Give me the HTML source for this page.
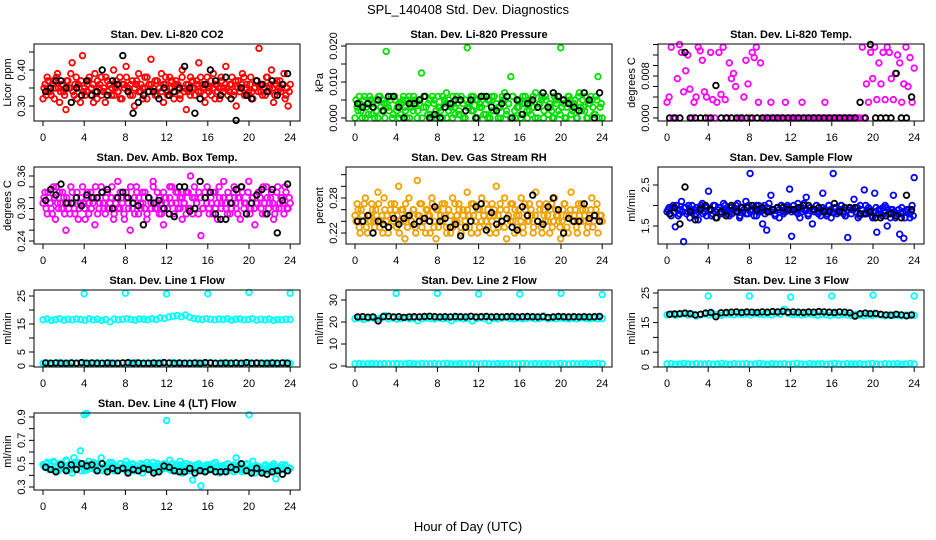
<!DOCTYPE html>
<html><head><meta charset="utf-8">
<style>
html,body{margin:0;padding:0;background:#fff;}
svg{display:block;font-family:"Liberation Sans",Arial,sans-serif;}
</style></head>
<body>
<svg id="chart" width="936" height="540" viewBox="0 0 936 540" xmlns="http://www.w3.org/2000/svg">
<rect x="0" y="0" width="936" height="540" fill="#fff"/>
<text x="468" y="14" text-anchor="middle" font-size="13">SPL_140408  Std. Dev. Diagnostics</text>
<text x="468" y="531" text-anchor="middle" font-size="13">Hour of Day (UTC)</text>
</svg>
<script>
// ---- data ----
const hourTicks = [0,4,8,12,16,20,24];
const outlierHours = [4,8,12,16,20,24];

const co2Red = [.32,.36,.38,.34,.33,.37,.35,.39,.31,.36,.34,.29,.37,.35,.42,.33,.38,.36,.31,.44,.35,.34,.37,.33,.36,.39,.32,.35,.38,.34,
.31,.37,.36,.33,.40,.35,.34,.38,.32,.36,.41,.35,.33,.37,.30,.36,.39,.34,.35,.38,.32,.36,.43,.34,.37,.33,.35,.39,.31,.36,
.34,.38,.35,.32,.37,.36,.33,.40,.34,.29,.36,.38,.35,.33,.37,.42,.34,.36,.31,.38,.35,.33,.39,.36,.34,.32,.37,.35,.41,.33,
.36,.38,.34,.30,.37,.35,.39,.33,.36,.34,.38,.32,.35,.37,.46,.34,.36,.33,.38,.35,.40,.31,.36,.34,.37,.35,.39,.33,.30,.36];
const co2RedB = [.35,.33,.37,.34,.36,.32,.38,.35,.34,.36,.33,.37,.35,.39,.34,.36,.32,.35,.37,.34,.33,.36,.38,.35,.31,.34,.37,.36,.33,.35,
.38,.34,.36,.35,.33,.37,.34,.32,.36,.35,.38,.34,.36,.33,.35,.37,.34,.36,.32,.35,.38,.34,.36,.35,.33,.37,.35,.34,.36,.38,
.33,.35,.37,.34,.36,.35,.32,.38,.35,.36,.34,.33,.37,.35,.36,.34,.38,.35,.33,.36,.34,.37,.35,.32,.36,.35,.38,.34,.36,.35,
.34,.36,.33,.37,.35,.34,.36,.38,.35,.33,.36,.34,.35,.37,.34,.36,.33,.35,.38,.34,.36,.35,.33,.37,.35,.34,.36,.32,.35,.34];
const co2Black = [.34,.35,.37,.37,.35,.31,.35,.33,.37,.33,.34,.40,.33,.37,.36,.44,.34,.28,.31,.33,.34,.34,.32,.35,.33,.34,.35,.41,.35,.28,.32,.36,.40,.37,.33,.38,.32,.26,.35,.33,.32,.37,.36,.34,.37,.33,.36,.39];

const presGreen = [0,.003,.006,.002,.005,0,.004,.006,.001,.003,.005,0,.006,.002,.004,.0185,.003,.005,0,.006,.002,.004,.001,.005,.003,0,.006,.004,.002,.005,
0,.004,.0125,.003,.006,.001,.005,0,.004,.002,.006,.003,0,.005,.007,.002,.004,0,.003,.006,.001,.005,.004,0,.0195,.003,.006,.002,.005,0,
.004,.003,.006,.001,.005,0,.002,.006,.004,.003,0,.005,.007,.002,.004,.0115,.006,0,.003,.005,.001,.004,.006,0,.002,.005,.003,.007,0,.004,
.006,.002,.005,.001,.003,0,.006,.004,.002,.0195,.005,0,.003,.006,.001,.004,.005,0,.007,.002,.003,.006,0,.004,.005,.001,.006,.0115,.003,0];
const presGreenB = [.005,.002,.004,0,.006,.003,.001,.005,.004,0,.002,.006,.003,.005,0,.004,.002,.006,.001,.005,.003,0,.004,.006,.002,.005,0,.003,.006,.004,
.002,.005,0,.006,.003,.004,.001,.006,.005,0,.003,.002,.006,.004,0,.005,.003,.006,.001,.004,.002,.006,0,.005,.003,.004,.002,.006,0,.005,
.003,.006,.001,.004,0,.005,.006,.002,.004,0,.003,.006,.005,.001,.004,0,.006,.002,.005,.003,0,.006,.004,.002,.005,.001,.006,0,.003,.004,
.005,0,.006,.003,.004,.002,0,.005,.006,.001,.003,.004,0,.006,.005,.002,.004,0,.006,.003,.005,.002,0,.004,.006,.003,.001,.005,0,.004];
const presBlack = [.004,.003,.004,.003,.005,.002,.006,.006,.003,0,.004,.004,.005,.006,0,.001,0,.003,.004,.005,.005,.002,.005,0,.006,.006,.003,.002,.004,.006,0,.005,.001,.004,.005,.003,.007,.003,.007,.006,.005,.004,.003,.002,.007,.005,0,.007];

const tempMagenta = [.003,.004,.0135,0,0,.0075,.014,.0125,.005,.009,.012,.0055,0,.003,.004,.0135,.0128,.011,.005,.004,0,.0125,.0035,0,.003,.0125,.0045,.0135,.0035,0,
.0105,.0075,.0085,.006,0,0,0,.004,.011,.0065,0,.0125,.0115,.0135,.003,.0105,0,0,0,0,.003,0,0,0,0,0,0,.003,0,0,
0,0,0,0,0,.003,0,0,0,0,0,0,0,0,0,0,.003,0,0,0,0,0,0,0,0,0,0,0,0,0,
0,0,0,0,.0135,0,.0065,.003,.0125,.0075,.0135,.0035,.0105,.0065,.0125,.0035,.0135,.0125,.0075,.0035,.0085,.012,.0105,.003,.0065,.0135,.006,.0115,.003,.0095];
const tempBlack = [0,0,0,.0125,0,0,0,0,0,.0062,0,0,0,0,0,0,0,0,0,0,0,0,0,0,0,0,0,0,0,0,0,0,0,0,0,0,0,.003,0,.014,0,0,0,0,.0085,0,0,.004];

const ambMagenta = [.31,.33,.29,.32,.30,.34,.28,.31,.33,.30,.32,.26,.31,.29,.33,.30,.32,.28,.31,.34,.30,.32,.29,.33,.31,.27,.32,.30,.34,.31,
.29,.33,.30,.32,.28,.31,.35,.30,.32,.29,.33,.31,.26,.30,.32,.34,.29,.31,.33,.30,.28,.32,.31,.35,.30,.33,.29,.31,.27,.32,
.30,.34,.31,.29,.33,.30,.32,.28,.31,.33,.30,.36,.29,.32,.31,.33,.25,.30,.32,.34,.29,.31,.33,.30,.28,.32,.31,.35,.30,.33,
.29,.31,.34,.30,.32,.28,.33,.31,.29,.35,.30,.32,.27,.31,.33,.30,.34,.29,.32,.31,.33,.28,.30,.34,.31,.32,.29,.33,.30,.31];
const ambMagentaB = [.32,.30,.33,.31,.29,.32,.34,.30,.31,.33,.29,.32,.30,.34,.31,.29,.33,.30,.32,.31,.28,.33,.31,.30,.32,.34,.29,.31,.33,.30,
.32,.30,.31,.34,.29,.32,.30,.33,.31,.28,.32,.30,.34,.31,.29,.33,.32,.30,.31,.33,.29,.32,.30,.34,.31,.30,.32,.29,.33,.31,
.30,.32,.34,.29,.31,.33,.30,.32,.31,.29,.33,.30,.32,.34,.31,.29,.32,.30,.33,.31,.30,.32,.29,.33,.31,.34,.30,.32,.31,.29,
.32,.30,.33,.31,.29,.32,.34,.30,.31,.33,.29,.32,.30,.31,.33,.32,.29,.31,.34,.30,.32,.31,.29,.33,.30,.32,.31,.34,.30,.32];
const ambBlack = [.315,.335,.325,.345,.31,.31,.32,.305,.325,.32,.32,.33,.335,.30,.32,.33,.32,.31,.305,.27,.32,.31,.315,.30,.29,.285,.34,.34,.295,.30,.35,.32,.33,.29,.28,.28,.31,.335,.34,.29,.31,.325,.335,.29,.335,.255,.315,.345];

const rhOrange = [.25,.27,.23,.26,.24,.28,.22,.25,.27,.24,.26,.29,.23,.25,.28,.24,.22,.26,.25,.27,.23,.30,.24,.26,.21,.25,.28,.24,.26,.23,
.31,.25,.27,.24,.22,.26,.25,.28,.23,.21,.26,.24,.27,.25,.23,.26,.22,.28,.24,.25,.27,.23,.26,.24,.29,.25,.22,.27,.24,.26,
.23,.28,.25,.24,.26,.22,.27,.25,.30,.23,.26,.24,.28,.21,.25,.27,.24,.26,.23,.25,.28,.22,.26,.24,.27,.25,.23,.29,.24,.26,
.22,.25,.27,.24,.26,.23,.28,.25,.24,.21,.26,.27,.23,.25,.29,.24,.26,.22,.25,.27,.24,.26,.23,.25,.28,.24,.26,.22,.25,.24];
const rhOrangeB = [.24,.26,.22,.25,.27,.23,.25,.24,.26,.23,.25,.27,.24,.22,.26,.25,.23,.27,.24,.26,.25,.22,.26,.24,.27,.23,.25,.24,.26,.22,
.25,.27,.23,.24,.26,.25,.22,.27,.24,.26,.23,.25,.24,.27,.22,.26,.25,.23,.27,.24,.26,.22,.25,.24,.26,.23,.27,.25,.24,.22,
.26,.24,.25,.27,.23,.25,.24,.26,.22,.25,.27,.24,.23,.26,.25,.24,.27,.22,.25,.26,.24,.23,.27,.25,.24,.26,.22,.25,.24,.27,
.23,.26,.24,.25,.22,.27,.24,.26,.25,.23,.24,.27,.25,.22,.26,.24,.25,.23,.27,.24,.26,.25,.22,.24,.26,.23,.25,.27,.24,.25];
const rhBlack = [.24,.24,.25,.22,.24,.235,.23,.245,.235,.245,.25,.235,.24,.245,.24,.265,.24,.245,.23,.235,.215,.23,.24,.265,.27,.225,.255,.235,.24,.245,.23,.225,.265,.25,.285,.24,.235,.265,.28,.26,.22,.245,.24,.24,.27,.245,.25,.24];

const flowBlue = [1.85,1.95,1.75,2.0,1.48,1.9,1.8,2.1,1.12,1.95,1.85,1.7,2.0,1.9,1.8,1.65,1.95,2.05,1.85,1.75,2.35,1.9,1.8,2.0,1.7,1.95,1.85,1.9,2.0,1.8,
1.75,1.95,1.9,1.85,2.05,1.7,1.95,1.9,2.1,1.8,2.78,1.9,1.75,2.0,1.85,1.9,1.55,2.0,1.4,1.85,2.25,1.9,1.8,1.95,1.7,2.0,1.85,1.9,2.0,2.4,
1.25,1.9,1.85,2.05,1.7,1.95,1.9,2.2,1.8,1.95,1.55,1.9,2.0,1.85,1.75,2.3,1.9,1.8,2.0,1.7,2.78,1.95,1.85,1.9,2.0,1.8,1.75,1.22,1.95,1.9,
2.15,1.85,1.7,2.0,1.9,2.38,1.8,1.95,1.85,1.7,2.3,1.35,1.9,1.8,1.95,2.0,1.5,1.85,1.9,2.25,1.7,1.8,1.3,1.95,1.2,1.85,1.9,1.7,2.0,2.68];
const flowBlueB = [1.9,1.8,1.95,1.85,2.0,1.75,1.9,1.85,1.95,1.8,2.0,1.9,1.85,1.75,1.95,1.9,2.0,1.8,1.85,1.95,1.9,1.75,2.0,1.85,1.9,1.95,1.8,2.05,1.85,1.9,
1.95,1.8,1.9,2.0,1.85,1.75,1.95,1.9,1.8,2.0,1.85,1.9,1.95,1.75,2.0,1.85,1.9,1.8,1.95,2.05,1.85,1.9,1.75,1.95,1.9,2.0,1.8,1.85,1.95,1.9,
1.85,2.0,1.9,1.8,1.95,1.85,2.05,1.9,1.75,1.95,1.9,1.85,2.0,1.8,1.9,1.95,1.85,1.75,2.0,1.9,1.85,1.95,1.8,1.9,2.0,1.85,1.75,1.9,1.95,1.8,
1.9,1.85,1.95,1.75,1.9,1.8,2.0,1.85,1.9,1.75,1.85,1.95,1.8,1.9,1.75,1.85,1.95,1.8,1.7,1.9,1.85,1.75,1.9,1.8,1.85,1.7,1.9,1.8,1.85,1.75];
const flowBlack = [1.8,1.95,1.55,2.45,1.85,1.65,1.9,2.0,1.9,1.7,1.85,1.75,2.0,1.85,1.95,1.95,2.0,1.9,1.95,1.85,1.9,1.95,1.95,1.9,1.9,1.95,2.0,2.0,1.9,1.95,1.85,1.85,2.05,1.85,1.95,1.95,1.95,1.8,1.8,1.85,1.7,1.7,1.75,1.8,1.75,1.7,2.25,1.9];

const line1Hi = [16.5,16.8,16.3,16.6,16.9,16.4,16.7,16.5,16.8,16.6,16.4,16.9,16.5,16.7,16.3,16.6,15.8,16.8,16.5,16.7,16.9,16.6,16.4,16.8,16.7,16.5,16.9,16.6,17.2,17.0,17.5,17.8,18.0,17.6,18.2,17.4,17.0,16.8,16.6,16.9,16.7,16.5,16.8,16.6,16.9,16.4,16.7,16.8,16.5,16.6,16.9,16.4,16.7,16.5,16.8,16.3,16.6,16.5,16.7,16.6];
const line1Lo = [1.0,1.1,0.9,1.0,1.2,1.0,0.9,1.1,1.0,1.0,1.1,0.9,1.0,1.2,1.0,0.9,1.1,1.0,1.0,1.1,0.9,1.0,1.2,1.0,0.9,1.1,1.0,1.0,1.1,0.9,1.0,1.2,1.0,0.9,1.1,1.0,1.0,1.1,0.9,1.0,1.2,1.0,0.9,1.1,1.0,1.0,1.1,0.9,1.0,1.2,1.0,0.9,1.1,1.0,1.0,1.1,0.9,1.0,1.2,1.0];
const line1Black = [1.1,1.0,1.1,1.0,1.0,1.1,1.0,1.2,1.0,1.1,1.0,1.0,1.1,1.0,1.0,1.1,1.2,1.0,1.1,1.0,1.0,1.1,1.0,1.2,1.1,1.0,1.1,1.0,1.0,1.1,1.0,1.2,1.1,1.0,1.0,1.1,1.0,1.1,1.0,1.2,1.0,1.1,1.0,1.0,1.1,1.0,1.1,1.0];
const line1Out = [25.8,26.0,25.7,25.8,26.3,26.0];

const line2Hi = [21.5,21.8,21.2,21.6,22.0,21.4,21.7,23.0,21.5,21.8,21.3,21.6,21.9,21.4,21.7,20.6,21.5,21.8,21.6,21.4,21.9,21.5,21.7,20.6,21.6,21.8,21.4,21.7,20.5,21.6,21.9,21.5,20.6,21.7,21.4,21.8,22.2,21.6,21.5,21.8,21.4,21.7,21.9,21.5,21.6,22.8,21.4,21.7,21.5,21.8,21.6,21.4,21.7,21.5,21.9,21.6,21.4,21.7,21.5,21.6];
const line2Lo = [1.0,1.1,0.9,1.0,1.2,1.0,0.9,1.1,1.0,1.0,1.1,0.9,1.0,1.2,1.0,0.9,1.1,1.0,1.0,1.1,0.9,1.0,1.2,1.0,0.9,1.1,1.0,1.0,1.1,0.9,1.0,1.2,1.0,0.9,1.1,1.0,1.0,1.1,0.9,1.0,1.2,1.0,0.9,1.1,1.0,1.0,1.1,0.9,1.0,1.2,1.0,0.9,1.1,1.0,1.0,1.1,0.9,1.0,1.2,1.0];
const line2Black = [22.3,22.4,22.2,22.3,20.5,22.4,22.6,22.3,22.4,22.1,22.3,22.4,22.3,22.5,22.6,22.4,22.3,22.4,22.3,22.5,22.4,22.3,22.6,22.3,22.4,22.5,22.3,22.4,22.3,22.4,22.5,22.3,22.4,22.5,22.4,22.3,22.4,22.1,22.3,22.5,22.4,22.3,22.4,22.3,22.4,22.3,22.4,22.5];
const line2Out = [33.0,33.0,32.7,32.7,33.0,32.5];

const line3Hi = [17.6,17.9,17.5,17.8,18.0,17.6,17.9,17.2,17.7,17.9,17.6,18.0,17.7,17.5,17.9,17.8,17.6,18.0,17.7,17.9,17.6,18.1,17.8,17.7,17.9,17.6,18.2,17.8,19.5,18.0,17.7,17.9,17.6,17.8,18.0,17.7,17.5,17.8,17.6,17.4,17.7,17.5,17.8,17.6,17.4,17.7,17.5,17.3,17.6,17.4,17.7,17.5,17.3,17.6,17.4,17.5,17.3,17.6,17.4,17.5];
const line3Lo = [1.0,1.1,0.9,1.0,1.2,1.0,0.9,1.1,1.0,1.0,1.1,0.9,1.0,1.2,1.0,0.9,1.1,1.0,1.0,1.1,0.9,1.0,1.2,1.0,0.9,1.1,1.0,1.0,1.1,0.9,1.0,1.2,1.0,0.9,1.1,1.0,1.0,1.1,0.9,1.0,1.2,1.0,0.9,1.1,1.0,1.0,1.1,0.9,1.0,1.2,1.0,0.9,1.1,1.0,1.0,1.1,0.9,1.0,1.2,1.0];
const line3Black = [17.8,17.9,18.0,18.2,18.0,17.6,17.8,18.2,18.4,17.0,18.3,18.4,18.5,18.6,18.4,18.6,18.5,18.4,18.6,18.5,18.7,18.6,18.8,18.5,18.6,18.5,18.4,18.6,18.5,18.7,18.6,18.5,18.4,18.6,18.5,18.3,17.2,18.0,18.2,18.0,18.1,17.8,17.6,17.5,17.8,17.6,17.3,17.6];
const line3Out = [24.0,24.0,23.6,24.0,24.3,24.0];

const line4Cyan = [.49,.47,.51,.45,.48,.52,.44,.47,.50,.46,.48,.53,.45,.47,.42,.49,.46,.51,.61,.47,.44,.49,.52,.46,.48,.45,.50,.47,.55,.44,
.48,.46,.51,.45,.49,.47,.44,.50,.46,.48,.52,.45,.47,.49,.44,.48,.46,.50,.42,.47,.45,.49,.46,.51,.44,.48,.47,.45,.50,.46,
.48,.53,.44,.47,.49,.45,.52,.42,.48,.46,.44,.49,.36,.47,.45,.50,.31,.46,.48,.44,.49,.47,.45,.51,.46,.42,.48,.47,.44,.50,
.46,.48,.43,.55,.47,.45,.49,.44,.50,.46,.47,.52,.42,.48,.45,.47,.44,.49,.46,.43,.48,.50,.37,.47,.45,.49,.46,.48,.44,.46];
const line4CyanB = [.48,.50,.46,.49,.45,.51,.47,.44,.50,.48,.46,.52,.47,.45,.49,.51,.46,.48,.44,.50,.47,.45,.49,.46,.51,.48,.44,.47,.50,.46,
.45,.49,.47,.51,.44,.48,.46,.50,.47,.45,.49,.43,.47,.50,.46,.48,.44,.47,.49,.45,.51,.46,.48,.44,.47,.50,.45,.48,.46,.49,
.47,.45,.50,.46,.48,.43,.49,.47,.45,.50,.46,.48,.44,.47,.49,.45,.48,.46,.43,.49,.47,.45,.50,.46,.48,.44,.47,.45,.49,.46,
.44,.47,.49,.45,.48,.46,.43,.47,.45,.49,.46,.44,.48,.45,.47,.43,.46,.48,.44,.47,.45,.43,.48,.46,.44,.47,.45,.49,.44,.46];
const line4Black = [.47,.45,.43,.49,.44,.49,.45,.50,.48,.49,.44,.50,.43,.46,.44,.46,.42,.45,.44,.46,.45,.42,.43,.48,.47,.44,.43,.43,.46,.42,.44,.43,.45,.43,.43,.43,.47,.45,.50,.44,.42,.46,.42,.41,.43,.44,.41,.44];
const line4Out = [.92,.92,.87,.55,.93,.45];
const line4OutHours = [4,20,12,3,4.2,14.4];
</script>
<script>
const svg = document.getElementById('chart');
const NS = 'http://www.w3.org/2000/svg';
const colLeft = [34, 346, 658];
const rowTop = [44, 167, 290, 413];
const BOXW = 266, BOXH = 77;

function mk(tag, attrs, parent) {
  const e = document.createElementNS(NS, tag);
  for (const k in attrs) e.setAttribute(k, attrs[k]);
  parent.appendChild(e);
  return e;
}

function xScale(left, h) { return left + 9 + h * 10.3; }

function drawPanel(p) {
  const left = colLeft[p.col], top = rowTop[p.row];
  const g = mk('g', {}, svg);
  
  
  const ys = v => p.p0 + (v - p.v0) * (p.p1 - p.p0) / (p.v1 - p.v0);
  const xs = h => xScale(left, h);

  const t = mk('text', {x: left + BOXW / 2, y: top - 6, 'text-anchor': 'middle', 'font-size': 11, 'font-weight': 'bold'}, g);
  t.textContent = p.title;
  
  

  const yl = mk('text', {x: 0, y: 0, 'text-anchor': 'middle', 'font-size': 11, transform: 'translate(' + (left - 23) + ',' + (top + BOXH / 2) + ') rotate(-90)'}, g);
  yl.textContent = p.ylab;
  
  

  hourTicks.forEach(h => {
    const x = xs(h);
    const tk = mk('line', {x1: x, x2: x, y1: top + BOXH, y2: top + BOXH + 5, stroke: '#000'}, g);
    
    
    const lb = mk('text', {x: x, y: top + BOXH + 20, 'text-anchor': 'middle', 'font-size': 11}, g);
    lb.textContent = String(h);
    
    
  });
  p.ticks.forEach((v, i) => {
    const y = ys(v);
    const tk = mk('line', {x1: left - 5, x2: left, y1: y, y2: y, stroke: '#000'}, g);
    
    
    if (p.labels[i]) {
      const lb = mk('text', {x: 0, y: 0, 'text-anchor': 'middle', 'font-size': 11, transform: 'translate(' + (left - 9) + ',' + y + ') rotate(-90)'}, g);
      lb.textContent = p.labels[i];
      
      
    }
  });

  const pts = mk('g', {}, g);
  
  
  p.series.forEach(s => {
    const n = s.data.length;
    s.data.forEach((v, i) => {
      let h;
      if (s.hours) h = s.hours[i];
      else if (s.half) h = (i + 0.5) / 2;
      else if (s.offset) h = (i + 0.5) * 24 / n;
      else h = i * 24 / (n - 1);
      const y = ys(v);
      if (y < top - 4 || y > top + BOXH + 4) return;
      const c = mk('circle', {cx: xs(h).toFixed(1), cy: y.toFixed(1), r: 2.8, fill: 'none', stroke: s.color, 'stroke-width': 1.8}, pts);
      
      
    });
  });

  const box = mk('rect', {x: left, y: top, width: BOXW, height: BOXH, fill: 'none', stroke: '#000', 'stroke-width': 1}, g);
  
  
}

const panels = [
 {name:'co2', col:0,row:0,title:'Stan. Dev. Li-820 CO2',ylab:'Licor ppm',v0:.30,p0:106,v1:.40,p1:70,
  ticks:[.30,.35,.40,.45],labels:['0.30','','0.40',''],
  series:[{data:co2Red,color:'#ff0000',label:'co2-point'},{data:co2RedB,color:'#ff0000',offset:true,label:'co2-point'},{data:co2Black,color:'#000',half:true,label:'co2-hourly-point'}]},
 {name:'pressure', col:1,row:0,title:'Stan. Dev. Li-820 Pressure',ylab:'kPa',v0:0,p0:118,v1:.02,p1:46,
  ticks:[0,.005,.01,.015,.02],labels:['0.000','','0.010','','0.020'],
  series:[{data:presGreen,color:'#00e000',label:'pressure-point'},{data:presGreenB,color:'#00e000',offset:true,label:'pressure-point'},{data:presBlack,color:'#000',half:true,label:'pressure-hourly-point'}]},
 {name:'temp', col:2,row:0,title:'Stan. Dev. Li-820 Temp.',ylab:'degrees C',v0:0,p0:118,v1:.008,p1:76,
  ticks:[0,.002,.004,.006,.008,.010,.012,.014],labels:['0.000','','','','0.008','','',''],
  series:[{data:tempMagenta,color:'#ff00ff',label:'temp-point'},{data:tempBlack,color:'#000',half:true,label:'temp-hourly-point'}]},
 {name:'amb-box-temp', col:0,row:1,title:'Stan. Dev. Amb. Box Temp.',ylab:'degrees C',v0:.24,p0:241,v1:.36,p1:176,
  ticks:[.24,.26,.28,.30,.32,.34,.36],labels:['0.24','','','0.30','','','0.36'],
  series:[{data:ambMagenta,color:'#ff00ff',label:'amb-temp-point'},{data:ambMagentaB,color:'#ff00ff',offset:true,label:'amb-temp-point'},{data:ambBlack,color:'#000',half:true,label:'amb-temp-hourly-point'}]},
 {name:'gas-rh', col:1,row:1,title:'Stan. Dev. Gas Stream RH',ylab:'percent',v0:.22,p0:233,v1:.28,p1:198,
  ticks:[.22,.24,.26,.28,.30,.32],labels:['0.22','','','0.28','',''],
  series:[{data:rhOrange,color:'#f0a000',label:'rh-point'},{data:rhOrangeB,color:'#f0a000',offset:true,label:'rh-point'},{data:rhBlack,color:'#000',half:true,label:'rh-hourly-point'}]},
 {name:'sample-flow', col:2,row:1,title:'Stan. Dev. Sample Flow',ylab:'ml/min',v0:1.5,p0:226,v1:2.5,p1:185,
  ticks:[1.5,2.0,2.5],labels:['1.5','','2.5'],
  series:[{data:flowBlue,color:'#0000ff',label:'flow-point'},{data:flowBlueB,color:'#0000ff',offset:true,label:'flow-point'},{data:flowBlack,color:'#000',half:true,label:'flow-hourly-point'}]},
 {name:'line1-flow', col:0,row:2,title:'Stan. Dev. Line 1 Flow',ylab:'ml/min',v0:0,p0:366,v1:25,p1:296,
  ticks:[0,5,10,15,20,25],labels:['0','5','','15','','25'],
  series:[{data:line1Hi,color:'#00ffff',label:'line1-point'},{data:line1Lo,color:'#00ffff',label:'line1-point'},{data:line1Out,hours:outlierHours,color:'#00ffff',label:'line1-outlier'},{data:line1Black,color:'#000',half:true,label:'line1-hourly-point'}]},
 {name:'line2-flow', col:1,row:2,title:'Stan. Dev. Line 2 Flow',ylab:'ml/min',v0:0,p0:366,v1:30,p1:300,
  ticks:[0,10,20,30],labels:['0','10','20','30'],
  series:[{data:line2Hi,color:'#00ffff',label:'line2-point'},{data:line2Lo,color:'#00ffff',label:'line2-point'},{data:line2Out,hours:outlierHours,color:'#00ffff',label:'line2-outlier'},{data:line2Black,color:'#000',half:true,label:'line2-hourly-point'}]},
 {name:'line3-flow', col:2,row:2,title:'Stan. Dev. Line 3 Flow',ylab:'ml/min',v0:0,p0:367,v1:25,p1:293,
  ticks:[0,5,10,15,20,25],labels:['0','5','','15','','25'],
  series:[{data:line3Hi,color:'#00ffff',label:'line3-point'},{data:line3Lo,color:'#00ffff',label:'line3-point'},{data:line3Out,hours:outlierHours,color:'#00ffff',label:'line3-outlier'},{data:line3Black,color:'#000',half:true,label:'line3-hourly-point'}]},
 {name:'line4-flow', col:0,row:3,title:'Stan. Dev. Line 4 (LT) Flow',ylab:'ml/min',v0:.3,p0:487,v1:.9,p1:417,
  ticks:[.3,.4,.5,.6,.7,.8,.9],labels:['0.3','','0.5','','0.7','','0.9'],
  series:[{data:line4Cyan,color:'#00ffff',label:'line4-point'},{data:line4CyanB,color:'#00ffff',offset:true,label:'line4-point'},{data:line4Out,hours:line4OutHours,color:'#00ffff',label:'line4-outlier'},{data:line4Black,color:'#000',half:true,label:'line4-hourly-point'}]}
];
panels.forEach(drawPanel);
</script>
</body></html>
